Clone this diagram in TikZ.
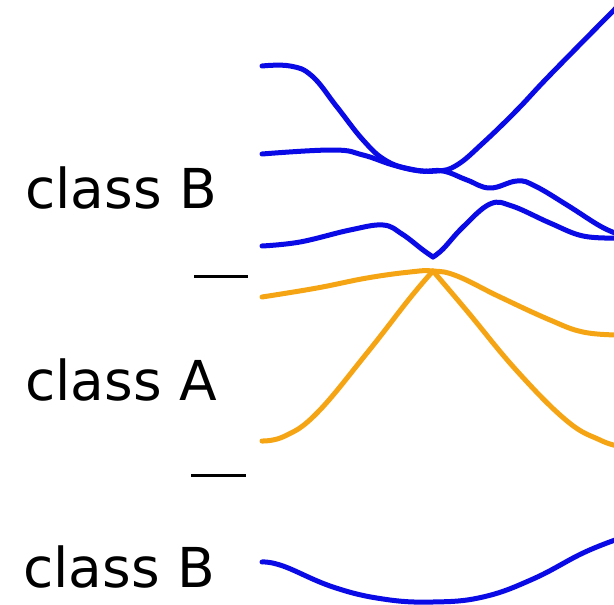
\documentclass[tikz,border=0pt]{standalone}
\usepackage{fontspec}
\setmainfont{DejaVu Sans}
\definecolor{bandblue}{RGB}{10,10,230}
\definecolor{bandorange}{RGB}{245,165,20}
\begin{document}
\begin{tikzpicture}[x=1pt,y=-1pt,
  blueband/.style={draw=bandblue,line width=5pt,line cap=round,line join=round},
  orangeband/.style={draw=bandorange,line width=5pt,line cap=round,line join=round},
  classlabel/.style={anchor=base west,inner sep=0pt,font=\fontsize{55}{62}\selectfont},
  gapmark/.style={draw=black,line width=3pt}]
\useasboundingbox (0,0) rectangle (614,605);
\begin{scope}
\clip (0,0) rectangle (614,605);
% blue bands
\draw[blueband] plot[smooth,tension=0.7] coordinates {(262,66) (290,66) (312,76) (337,107) (363,140) (385,160) (410,169) (437,171) (457,165) (483,143) (517,110) (550,75) (618,6)};
\draw[blueband] plot[smooth,tension=0.7] coordinates {(262,154) (333,150) (363,155) (393,165) (420,171) (443,171) (467,180) (490,188) (517,181) (535,186) (567,205) (600,226) (618,234)};
\draw[blueband] plot[smooth,tension=0.65] coordinates {(262,246) (300,242) (350,230) (383,225) (402,234) (423,250) (433,257)};
\draw[blueband] plot[smooth,tension=0.65] coordinates {(433,257) (443,249) (463,227) (490,204) (512,206) (550,223) (583,236) (618,238)};
\draw[blueband] plot[smooth,tension=0.7] coordinates {(262,562) (283,566) (333,587) (383,599) (433,602) (483,597) (533,579) (583,553) (618,539)};
% orange bands
\draw[orangeband] plot[smooth,tension=0.7] coordinates {(262,297) (317,288) (367,278) (410,272) (433,271) (457,276) (500,297) (550,320) (583,332) (618,335)};
\draw[orangeband] plot[smooth,tension=0.7] coordinates {(262,441) (285,436) (317,413) (367,353) (410,298) (433,271)};
\draw[orangeband] plot[smooth,tension=0.7] coordinates {(433,271) (467,311) (517,371) (567,421) (600,440) (618,446)};
\end{scope}
% labels
\node[classlabel] (bTop) at (25,208) {class B};
\node[classlabel] (aMid) at (25,400) {class A};
\node[classlabel] (bBot) at (23,587) {class B};
% gap marks
\coordinate (g1a) at (194,276); \coordinate (g1b) at (248,276);
\coordinate (g2a) at (191,475); \coordinate (g2b) at (246,475);
\draw[gapmark] (g1a) -- (g1b);
\draw[gapmark] (g2a) -- (g2b);
\end{tikzpicture}
\end{document}
